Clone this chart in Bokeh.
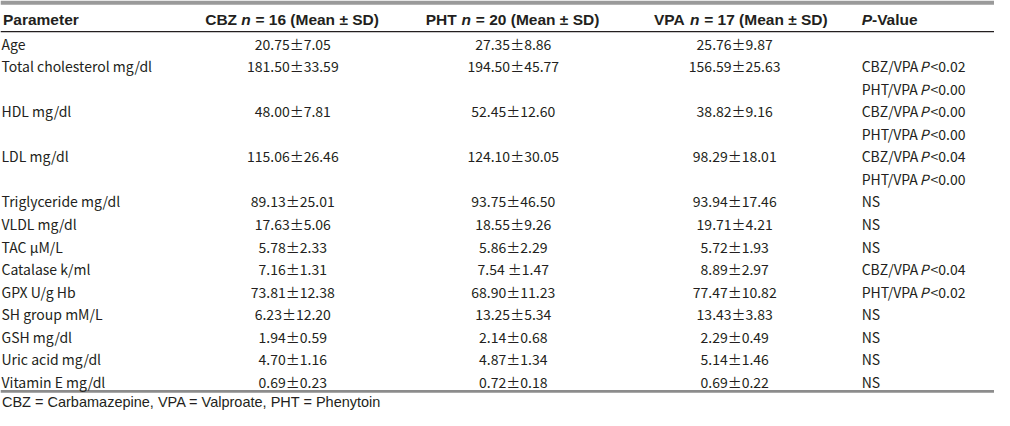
from bokeh.plotting import figure
from bokeh.models import Range1d
from bokeh.core.properties import value
from bokeh.embed import file_html
from bokeh.resources import INLINE

# ---- data ----
parameters = ["Age", "Total cholesterol mg/dl", "HDL mg/dl", "LDL mg/dl",
              "Triglyceride mg/dl", "VLDL mg/dl", "TAC \u03bcM/L", "Catalase k/ml",
              "GPX U/g Hb", "SH group mM/L", "GSH mg/dl", "Uric acid mg/dl",
              "Vitamin E mg/dl"]
cbz = ["20.75\u00b17.05", "181.50\u00b133.59", "48.00\u00b17.81", "115.06\u00b126.46",
       "89.13\u00b125.01", "17.63\u00b15.06", "5.78\u00b12.33", "7.16\u00b11.31",
       "73.81\u00b112.38", "6.23\u00b112.20", "1.94\u00b10.59", "4.70\u00b11.16",
       "0.69\u00b10.23"]
pht = ["27.35\u00b18.86", "194.50\u00b145.77", "52.45\u00b112.60", "124.10\u00b130.05",
       "93.75\u00b146.50", "18.55\u00b19.26", "5.86\u00b12.29", "7.54 \u00b11.47",
       "68.90\u00b111.23", "13.25\u00b15.34", "2.14\u00b10.68", "4.87\u00b11.34",
       "0.72\u00b10.18"]
vpa = ["25.76\u00b19.87", "156.59\u00b125.63", "38.82\u00b19.16", "98.29\u00b118.01",
       "93.94\u00b117.46", "19.71\u00b14.21", "5.72\u00b11.93", "8.89\u00b12.97",
       "77.47\u00b110.82", "13.43\u00b13.83", "2.29\u00b10.49", "5.14\u00b11.46",
       "0.69\u00b10.22"]
pvalues = [[],
           [("CBZ/VPA", "<0.02"), ("PHT/VPA", "<0.00")],
           [("CBZ/VPA", "<0.00"), ("PHT/VPA", "<0.00")],
           [("CBZ/VPA", "<0.04"), ("PHT/VPA", "<0.00")],
           "NS", "NS", "NS",
           [("CBZ/VPA", "<0.04")],
           [("PHT/VPA", "<0.02")],
           "NS", "NS", "NS", "NS"]
headers = [("CBZ", "16"), ("PHT", "20"), ("VPA", "17")]
footnote = "CBZ = Carbamazepine, VPA = Valproate, PHT = Phenytoin"

# ---- layout (reference pixel space 1010 x 426) ----
W, H = 1010, 426
p = figure(width=994, height=410, output_backend="svg", toolbar_location=None,
           x_range=Range1d(0, W), y_range=Range1d(H, 0), min_border=0)
p.axis.visible = False
p.grid.visible = False
p.outline_line_color = None
p.background_fill_color = "white"
p.border_fill_color = "white"

BODY = "Noto Sans CJK JP"
HEAD = "Liberation Sans"
TXT = "#231f20"
bsize = "14px"
hsize = "15.5px"

def txt(x, y, s, font=BODY, size=bsize, align="left", style="normal"):
    p.text(x=[x], y=[y], text=[s], text_font=value(font), text_font_size=size,
           text_align=align, text_baseline="middle", text_color=TXT,
           text_font_style=style)

# rules
p.quad(left=[0], right=[W], top=[0], bottom=[4.5], fill_color="#9a9a9a", line_color=None)
p.segment(x0=[0], x1=[W], y0=[32.3], y1=[32.3], line_color="#231f20", line_width=1.2)
p.quad(left=[0], right=[W], top=[404.6], bottom=[407.6], fill_color="#8c8c8c", line_color=None)

# header
hy = 19.5
txt(2.5, hy, "Parameter", HEAD, hsize, style="bold")
col_head_x = [208, 432, 664]
for (name, n), x0 in zip(headers, col_head_x):
    txt(x0, hy, name, HEAD, hsize, style="bold")
    txt(x0 + 36.5, hy, "n", HEAD, hsize, style="bold italic")
    txt(x0 + 51, hy, "= " + n + " (Mean \u00b1 SD)", HEAD, hsize, style="bold")
txt(875, hy, "P", HEAD, hsize, style="bold italic")
txt(885.5, hy, "-Value", HEAD, hsize, style="bold")

# body rows
y0, step = 45.0, 23.4
slot = 0
data_x = [297, 521, 746]
for i, name in enumerate(parameters):
    y = y0 + slot * step
    txt(1, y, name)
    for xc, col in zip(data_x, (cbz, pht, vpa)):
        txt(xc, y, col[i], align="center")
    pv = pvalues[i]
    if pv == "NS":
        txt(875, y, "NS")
        nlines = 1
    else:
        for k, (cmp_, thr) in enumerate(pv):
            yy = y + k * step
            txt(875, yy, cmp_)
            txt(934, yy, "P", style="italic")
            txt(945, yy, thr)
        nlines = max(1, len(pv))
    slot += nlines

txt(1.5, 417.5, footnote, HEAD, "14.5px")

open("out.html", "w").write(file_html(p, INLINE))
